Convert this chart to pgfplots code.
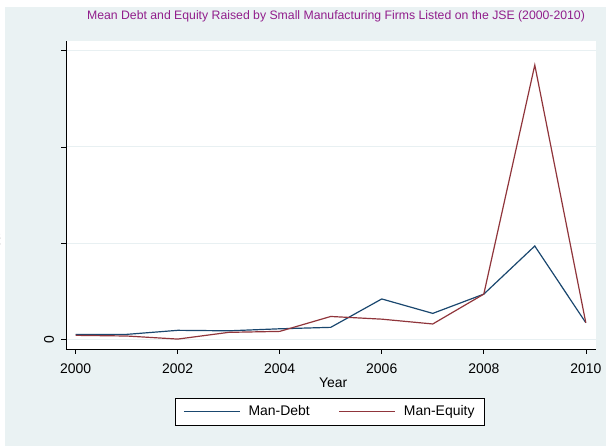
\documentclass[border=0pt]{standalone}
\usepackage{pgfplots}
\pgfplotsset{compat=1.18}
\usepackage{fontspec}
\setmainfont{Liberation Sans}
\definecolor{bgc}{RGB}{234,242,243}
\definecolor{gridc}{RGB}{232,240,242}
\definecolor{debtc}{RGB}{26,71,111}
\definecolor{eqc}{RGB}{144,53,59}
\definecolor{titc}{RGB}{145,30,140}
\begin{document}
\begin{tikzpicture}
\useasboundingbox (0,0) rectangle (606bp,446bp);
\fill[white] (0,0) rectangle (606bp,446bp);
\fill[bgc] (5bp,0) rectangle (606bp,439bp);
\node[text=titc, font=\fontsize{12.3}{14}\selectfont] at (336bp,430bp) {Mean Debt and Equity Raised by Small Manufacturing Firms Listed on the JSE (2000-2010)};
\begin{axis}[
  at={(66bp,97bp)}, anchor=south west,
  scale only axis, width=530bp, height=308bp,
  xmin=1999.81, xmax=2010.2, ymin=-0.10, ymax=3.10,
  axis x line*=bottom, axis y line*=left,
  axis line style={black, line width=0.8pt, -},
  axis background/.style={fill=white},
  xtick={2000,2002,...,2010},
  ytick={0,1,2,3}, yticklabels={0,,,},
  tick align=outside, major tick length=5bp,
  tick style={black, line width=0.6pt},
  xticklabel style={/pgf/number format/1000 sep={}, yshift=-6bp},
  /pgf/number format/assume math mode=true,
  ticklabel style={font=\fontsize{14}{16}\selectfont},
  yticklabel style={rotate=90, anchor=south, yshift=3.5bp},
  ymajorgrids, grid style={gridc, line width=1pt},
  xlabel={Year}, xlabel style={font=\fontsize{14}{16}\selectfont,
    at={(axis description cs:0.504,-0.1088)}, anchor=center},
  ylabel={Mean}, ylabel style={font=\fontsize{14}{16}\selectfont,
    at={(axis description cs:-0.1235,0.344)}, rotate=0, anchor=south, inner sep=0pt},
  legend columns=2,
  legend style={at={(0.498,-0.203)}, anchor=center, draw=black, line width=0.6pt,
    font=\fontsize{14}{16}\selectfont,
    /tikz/every odd column/.append style={column sep=6bp},
    /tikz/every even column/.append style={column sep=27bp},
    inner xsep=8bp, inner ysep=5.5bp},
  legend image code/.code={\draw[#1, line width=1.2pt] (0bp,0bp) -- (56bp,0bp);},
]
\addplot[debtc, line width=1.2pt] coordinates {
(2000,0.052) (2001,0.052) (2002,0.094) (2003,0.089) (2004,0.11) (2005,0.125)
(2006,0.42) (2007,0.27) (2008,0.47) (2009,0.97) (2010,0.173)};
\addlegendentry{Man-Debt}
\addplot[eqc, line width=1.2pt] coordinates {
(2000,0.042) (2001,0.035) (2002,0.003) (2003,0.073) (2004,0.083) (2005,0.238)
(2006,0.21) (2007,0.16) (2008,0.47) (2009,2.85) (2010,0.173)};
\addlegendentry{Man-Equity}
\end{axis}
\end{tikzpicture}
\end{document}
